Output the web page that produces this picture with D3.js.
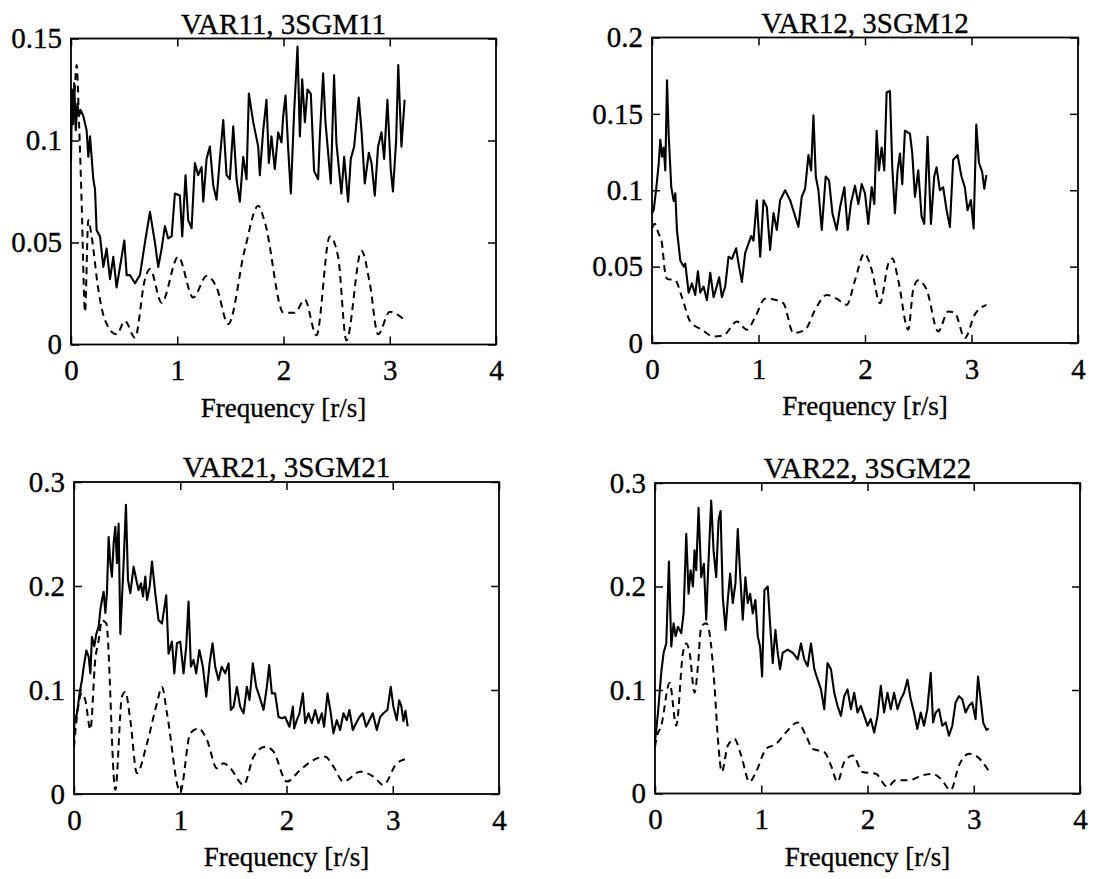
<!DOCTYPE html>
<html>
<head>
<meta charset="utf-8">
<script src="https://cdn.jsdelivr.net/npm/d3@7"></script>
<style>
  body { margin: 0; background: #fff; }
  svg text { font-family: "Liberation Serif", "Times New Roman", serif; fill: #000; stroke: #000; stroke-width: 0.35px; }
</style>
</head>
<body>
<div id="graph"></div>
<script>
// frequency [r/s], value pairs
const var11 = [[0,0.09],[0.01,0.125],[0.02,0.108],[0.03,0.128],[0.045,0.105],[0.06,0.118],[0.075,0.112],[0.09,0.115],[0.116,0.112],[0.147,0.105],[0.163,0.092],[0.179,0.102],[0.21,0.081],[0.226,0.076],[0.241,0.056],[0.273,0.053],[0.304,0.038],[0.335,0.047],[0.367,0.032],[0.398,0.043],[0.429,0.028],[0.461,0.038],[0.502,0.051],[0.524,0.034],[0.555,0.034],[0.602,0.03],[0.649,0.034],[0.696,0.05],[0.743,0.065],[0.79,0.05],[0.821,0.038],[0.853,0.047],[0.884,0.058],[0.915,0.052],[0.947,0.053],[0.978,0.074],[1.025,0.073],[1.047,0.053],[1.078,0.083],[1.103,0.061],[1.135,0.057],[1.166,0.089],[1.197,0.083],[1.229,0.087],[1.245,0.07],[1.276,0.091],[1.307,0.097],[1.339,0.078],[1.37,0.071],[1.401,0.091],[1.433,0.11],[1.464,0.083],[1.495,0.081],[1.527,0.107],[1.558,0.081],[1.589,0.07],[1.621,0.092],[1.652,0.081],[1.674,0.123],[1.715,0.109],[1.762,0.097],[1.777,0.083],[1.809,0.105],[1.84,0.12],[1.862,0.089],[1.887,0.102],[1.918,0.086],[1.95,0.104],[1.981,0.099],[1.997,0.112],[2.019,0.122],[2.044,0.096],[2.069,0.074],[2.1,0.114],[2.132,0.146],[2.154,0.102],[2.176,0.13],[2.201,0.109],[2.226,0.125],[2.257,0.123],[2.288,0.085],[2.326,0.081],[2.342,0.102],[2.373,0.133],[2.395,0.109],[2.42,0.094],[2.445,0.079],[2.476,0.132],[2.498,0.099],[2.52,0.087],[2.545,0.074],[2.571,0.092],[2.608,0.07],[2.633,0.091],[2.665,0.097],[2.708,0.121],[2.734,0.105],[2.765,0.079],[2.803,0.094],[2.828,0.089],[2.859,0.073],[2.89,0.097],[2.922,0.104],[2.947,0.091],[2.978,0.12],[3.009,0.086],[3.03,0.075],[3.06,0.1],[3.08,0.137],[3.11,0.097],[3.14,0.12]];
const sgm11 = [[0.02,0.112],[0.035,0.125],[0.053,0.137],[0.075,0.11],[0.1,0.07],[0.132,0.016],[0.163,0.061],[0.194,0.053],[0.257,0.027],[0.32,0.012],[0.429,0.005],[0.508,0.0115],[0.602,0.0033],[0.696,0.032],[0.743,0.037],[0.853,0.0205],[1.009,0.043],[1.15,0.023],[1.276,0.0336],[1.37,0.028],[1.48,0.01],[1.636,0.0467],[1.762,0.068],[1.824,0.06],[2.0,0.0156],[2.107,0.0156],[2.2,0.022],[2.31,0.0045],[2.436,0.053],[2.514,0.043],[2.592,0.002],[2.734,0.046],[2.812,0.03],[2.89,0.005],[3.0,0.016],[3.06,0.015],[3.14,0.012]];

const var12 = [[0,0.085],[0.016,0.087],[0.038,0.1],[0.0625,0.117],[0.078,0.133],[0.094,0.122],[0.109,0.128],[0.125,0.113],[0.141,0.172],[0.156,0.137],[0.181,0.102],[0.203,0.093],[0.219,0.098],[0.234,0.074],[0.266,0.054],[0.297,0.05],[0.3125,0.052],[0.344,0.033],[0.375,0.039],[0.406,0.0315],[0.431,0.047],[0.453,0.033],[0.484,0.037],[0.516,0.028],[0.547,0.046],[0.578,0.03],[0.6,0.035],[0.631,0.043],[0.656,0.03],[0.6875,0.037],[0.719,0.0565],[0.75,0.055],[0.79,0.062],[0.8125,0.052],[0.844,0.04],[0.875,0.059],[0.906,0.065],[0.931,0.07],[0.953,0.067],[0.984,0.0935],[1.016,0.0565],[1.047,0.0935],[1.078,0.089],[1.109,0.061],[1.141,0.085],[1.172,0.074],[1.203,0.0935],[1.25,0.1],[1.297,0.0935],[1.344,0.083],[1.375,0.076],[1.406,0.0957],[1.4375,0.101],[1.469,0.123],[1.494,0.113],[1.516,0.149],[1.538,0.109],[1.5625,0.1],[1.594,0.074],[1.631,0.109],[1.6625,0.1065],[1.694,0.085],[1.734,0.074],[1.766,0.089],[1.806,0.102],[1.8375,0.074],[1.869,0.092],[1.906,0.103],[1.9375,0.091],[1.969,0.104],[2.0,0.098],[2.031,0.078],[2.0625,0.102],[2.0875,0.091],[2.109,0.139],[2.131,0.113],[2.156,0.128],[2.181,0.113],[2.203,0.164],[2.234,0.165],[2.256,0.115],[2.281,0.085],[2.306,0.113],[2.328,0.124],[2.35,0.104],[2.375,0.139],[2.422,0.137],[2.444,0.124],[2.469,0.0957],[2.5,0.113],[2.531,0.083],[2.556,0.078],[2.5875,0.135],[2.619,0.078],[2.65,0.109],[2.672,0.115],[2.703,0.1],[2.734,0.102],[2.766,0.087],[2.797,0.076],[2.828,0.12],[2.869,0.123],[2.906,0.109],[2.9375,0.102],[2.9625,0.087],[2.994,0.0935],[3.02,0.075],[3.045,0.143],[3.07,0.118],[3.1,0.112],[3.12,0.101],[3.14,0.11]];
const sgm12 = [[0,0.075],[0.025,0.078],[0.06,0.072],[0.094,0.065],[0.119,0.048],[0.141,0.042],[0.219,0.041],[0.281,0.03],[0.359,0.014],[0.469,0.0087],[0.578,0.0043],[0.672,0.005],[0.797,0.014],[0.891,0.0087],[0.969,0.017],[1.0625,0.029],[1.172,0.028],[1.234,0.026],[1.328,0.0065],[1.4375,0.0087],[1.531,0.0217],[1.641,0.0315],[1.734,0.029],[1.828,0.025],[1.906,0.041],[1.994,0.0587],[2.0625,0.048],[2.141,0.026],[2.219,0.052],[2.256,0.0554],[2.3125,0.041],[2.406,0.0087],[2.453,0.035],[2.5,0.041],[2.578,0.035],[2.6875,0.0076],[2.781,0.0207],[2.844,0.0196],[2.9375,0.0033],[3.03,0.0185],[3.14,0.025]];

const var21 = [[0,0.05],[0.003,0.068],[0.028,0.0776],[0.053,0.097],[0.075,0.1096],[0.091,0.122],[0.116,0.138],[0.138,0.132],[0.154,0.116],[0.169,0.151],[0.191,0.142],[0.21,0.154],[0.232,0.161],[0.248,0.177],[0.263,0.1865],[0.279,0.1945],[0.295,0.174],[0.31,0.193],[0.326,0.247],[0.342,0.222],[0.357,0.209],[0.373,0.241],[0.389,0.257],[0.404,0.222],[0.42,0.26],[0.436,0.154],[0.451,0.1865],[0.467,0.222],[0.489,0.278],[0.508,0.206],[0.53,0.193],[0.561,0.2186],[0.586,0.206],[0.608,0.196],[0.63,0.2026],[0.649,0.19],[0.671,0.209],[0.687,0.1865],[0.712,0.1994],[0.734,0.2234],[0.765,0.193],[0.796,0.167],[0.828,0.164],[0.868,0.191],[0.89,0.135],[0.922,0.1465],[0.944,0.116],[0.969,0.145],[1.0,0.1465],[1.031,0.116],[1.056,0.1417],[1.078,0.185],[1.1,0.1224],[1.125,0.129],[1.15,0.116],[1.18,0.1385],[1.213,0.1224],[1.245,0.0936],[1.276,0.1256],[1.304,0.145],[1.329,0.1224],[1.36,0.1096],[1.39,0.1224],[1.423,0.116],[1.455,0.1256],[1.476,0.0808],[1.502,0.084],[1.533,0.103],[1.564,0.084],[1.596,0.0776],[1.627,0.103],[1.652,0.0904],[1.683,0.1256],[1.715,0.103],[1.746,0.0936],[1.784,0.0808],[1.815,0.103],[1.837,0.124],[1.862,0.0968],[1.893,0.0968],[1.925,0.074],[1.956,0.0728],[1.987,0.074],[2.028,0.0647],[2.06,0.084],[2.072,0.063],[2.097,0.071],[2.122,0.0776],[2.154,0.0968],[2.176,0.068],[2.207,0.0776],[2.238,0.068],[2.27,0.0808],[2.301,0.068],[2.332,0.0776],[2.354,0.0647],[2.386,0.0968],[2.417,0.0776],[2.442,0.0583],[2.473,0.071],[2.505,0.0615],[2.536,0.0776],[2.567,0.071],[2.592,0.0808],[2.624,0.0615],[2.655,0.068],[2.687,0.074],[2.718,0.0776],[2.749,0.0647],[2.78,0.071],[2.812,0.0776],[2.85,0.0615],[2.881,0.074],[2.912,0.0776],[2.95,0.0808],[2.981,0.103],[3.006,0.084],[3.038,0.071],[3.06,0.09],[3.08,0.085],[3.1,0.07],[3.12,0.08],[3.14,0.065]];
const sgm21 = [[0,0.045],[0.028,0.075],[0.075,0.097],[0.107,0.09],[0.154,0.062],[0.2,0.129],[0.232,0.148],[0.263,0.167],[0.304,0.164],[0.389,0.004],[0.451,0.0936],[0.483,0.0984],[0.53,0.071],[0.592,0.02],[0.687,0.0487],[0.78,0.087],[0.828,0.103],[0.875,0.0776],[1.0,0.002],[1.094,0.0583],[1.172,0.063],[1.251,0.052],[1.345,0.0247],[1.408,0.0295],[1.47,0.025],[1.596,0.0087],[1.69,0.0359],[1.8,0.0455],[1.878,0.0407],[2.003,0.0119],[2.128,0.023],[2.254,0.0327],[2.364,0.0359],[2.442,0.0263],[2.536,0.0119],[2.693,0.0215],[2.818,0.0167],[2.912,0.0087],[3.038,0.0295],[3.14,0.034]];

const var22 = [[0,0.05],[0.006,0.056],[0.028,0.078],[0.059,0.117],[0.081,0.136],[0.106,0.145],[0.131,0.224],[0.153,0.142],[0.175,0.1645],[0.194,0.152],[0.216,0.161],[0.247,0.155],[0.269,0.174],[0.294,0.251],[0.316,0.193],[0.335,0.2157],[0.357,0.2],[0.372,0.235],[0.388,0.2157],[0.41,0.276],[0.435,0.209],[0.46,0.222],[0.482,0.168],[0.5,0.2157],[0.529,0.283],[0.551,0.235],[0.576,0.209],[0.598,0.264],[0.617,0.273],[0.638,0.19],[0.664,0.158],[0.685,0.187],[0.707,0.2125],[0.732,0.184],[0.757,0.203],[0.779,0.2556],[0.801,0.2125],[0.826,0.168],[0.851,0.209],[0.873,0.184],[0.895,0.193],[0.92,0.174],[0.945,0.187],[0.967,0.152],[0.989,0.142],[1.008,0.113],[1.03,0.1965],[1.061,0.2],[1.083,0.1645],[1.108,0.126],[1.133,0.158],[1.155,0.136],[1.177,0.12],[1.202,0.136],[1.249,0.139],[1.296,0.136],[1.343,0.1295],[1.374,0.145],[1.405,0.1295],[1.437,0.123],[1.468,0.145],[1.5,0.12],[1.531,0.11],[1.562,0.1006],[1.593,0.0815],[1.624,0.126],[1.656,0.12],[1.687,0.0974],[1.718,0.0847],[1.75,0.075],[1.781,0.094],[1.812,0.1006],[1.844,0.0815],[1.875,0.0974],[1.906,0.0783],[1.937,0.0847],[1.969,0.075],[2.0,0.0655],[2.031,0.0719],[2.063,0.059],[2.094,0.075],[2.125,0.104],[2.156,0.0783],[2.188,0.0974],[2.219,0.0815],[2.25,0.0974],[2.282,0.0815],[2.313,0.091],[2.344,0.0974],[2.376,0.11],[2.407,0.091],[2.438,0.0783],[2.469,0.0623],[2.501,0.0783],[2.532,0.0655],[2.563,0.0815],[2.595,0.1166],[2.617,0.0687],[2.642,0.0783],[2.673,0.0815],[2.704,0.0655],[2.736,0.0687],[2.767,0.0559],[2.798,0.0655],[2.829,0.0879],[2.861,0.094],[2.892,0.091],[2.923,0.0783],[2.955,0.0847],[2.986,0.0879],[3.017,0.0719],[3.04,0.113],[3.09,0.068],[3.12,0.0615],[3.14,0.063]];
const sgm22 = [[0,0.045],[0.0125,0.0527],[0.059,0.0655],[0.138,0.107],[0.2,0.0655],[0.263,0.136],[0.294,0.145],[0.326,0.136],[0.372,0.0974],[0.404,0.123],[0.435,0.161],[0.482,0.1645],[0.513,0.155],[0.56,0.104],[0.592,0.0527],[0.629,0.0208],[0.685,0.0463],[0.748,0.0527],[0.811,0.0367],[0.889,0.0112],[0.951,0.0208],[1.045,0.0431],[1.139,0.0479],[1.233,0.0591],[1.343,0.0687],[1.421,0.0559],[1.484,0.0431],[1.593,0.04],[1.656,0.0272],[1.718,0.0112],[1.781,0.0304],[1.862,0.0367],[1.953,0.0208],[2.078,0.019],[2.188,0.0064],[2.266,0.0128],[2.391,0.0128],[2.516,0.0176],[2.61,0.019],[2.689,0.0144],[2.783,0.0032],[2.861,0.0272],[2.955,0.0383],[3.017,0.0367],[3.14,0.022]];

const titles = ["VAR11, 3SGM11", "VAR12, 3SGM12", "VAR21, 3SGM21", "VAR22, 3SGM22"];
const xTicks = [0, 1, 2, 3, 4];
const yTicks11 = [0, 0.05, 0.1, 0.15];
const yTicks12 = [0, 0.05, 0.1, 0.15, 0.2];
const yTicks2x = [0, 0.1, 0.2, 0.3];
const xLabel = "Frequency [r/s]";

(function() {
    const width = 1099, height = 879;

    // panel boxes
    const panels = [
        {title: titles[0], solid: var11, dashed: sgm11, yTicks: yTicks11, left: 71, right: 496, top: 38.5, bottom: 344.5},
        {title: titles[1], solid: var12, dashed: sgm12, yTicks: yTicks12, left: 652, right: 1078, top: 37.5, bottom: 343},
        {title: titles[2], solid: var21, dashed: sgm21, yTicks: yTicks2x, left: 74, right: 499, top: 482, bottom: 794},
        {title: titles[3], solid: var22, dashed: sgm22, yTicks: yTicks2x, left: 655, right: 1080, top: 483, bottom: 793.5}
    ];

    const svg = d3.select("#graph")
        .append("svg")
        .attr("width", width)
        .attr("height", height);

    panels.forEach(function(p) {
        const x = d3.scaleLinear().domain([0, 4]).range([p.left, p.right]);
        const y = d3.scaleLinear().domain([0, d3.max(p.yTicks)]).range([p.bottom, p.top]);

        const g = svg.append("g");

        const fmt = (d) => String(d);

        g.append("g")
            .attr("transform", "translate(0," + p.bottom + ")")
            .call(d3.axisBottom(x).tickValues(xTicks).tickFormat(fmt).tickSize(-8).tickPadding(15));
        g.append("g")
            .attr("transform", "translate(0," + p.top + ")")
            .call(d3.axisTop(x).tickValues(xTicks).tickFormat("").tickSize(-8));
        g.append("g")
            .attr("transform", "translate(" + p.left + ",0)")
            .call(d3.axisLeft(y).tickValues(p.yTicks).tickFormat(fmt).tickSize(-8).tickPadding(9));
        g.append("g")
            .attr("transform", "translate(" + p.right + ",0)")
            .call(d3.axisRight(y).tickValues(p.yTicks).tickFormat("").tickSize(-8));

        g.selectAll(".domain").remove();
        g.selectAll(".tick line").attr("stroke", "#000").attr("stroke-width", 1.5);
        g.selectAll(".tick text").attr("font-size", 29);

        g.append("rect")
            .attr("x", p.left).attr("y", p.top)
            .attr("width", p.right - p.left).attr("height", p.bottom - p.top)
            .attr("fill", "none").attr("stroke", "#000").attr("stroke-width", 1.8);

        const line = d3.line()
            .x((d) => x(d[0]))
            .y((d) => y(d[1]));
        const smooth = d3.line()
            .x((d) => x(d[0]))
            .y((d) => y(d[1]))
            .curve(d3.curveMonotoneX);

        g.append("path")
            .datum(p.dashed)
            .attr("d", smooth)
            .attr("fill", "none")
            .attr("stroke", "#000")
            .attr("stroke-width", 2)
            .attr("stroke-dasharray", "7,5");

        g.append("path")
            .datum(p.solid)
            .attr("d", line)
            .attr("fill", "none")
            .attr("stroke", "#000")
            .attr("stroke-width", 2.1)
            .attr("stroke-linejoin", "round");

        g.append("text")
            .attr("x", (p.left + p.right) / 2)
            .attr("y", p.top - 5)
            .attr("text-anchor", "middle")
            .attr("font-size", 29)
            .text(p.title);

        g.append("text")
            .attr("x", (p.left + p.right) / 2)
            .attr("y", p.bottom + 72)
            .attr("text-anchor", "middle")
            .attr("font-size", 27)
            .text(xLabel);
    });
})();
</script>
</body>
</html>
